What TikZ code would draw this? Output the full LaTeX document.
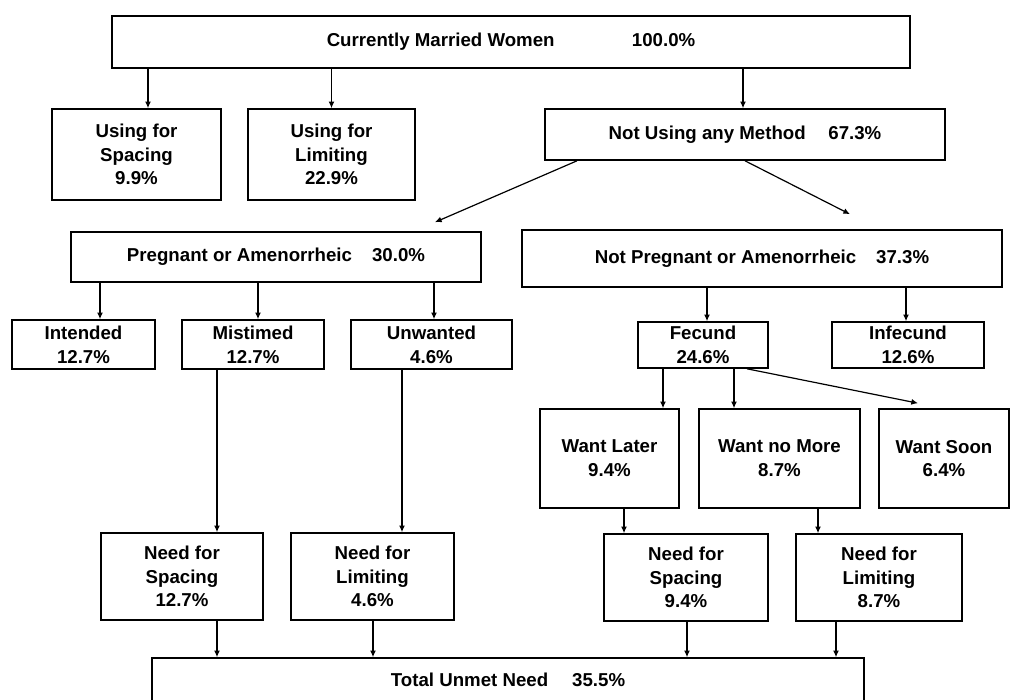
\documentclass[tikz,border=0pt]{standalone}
\usepackage{fontspec}
\setmainfont{Liberation Sans}
\usetikzlibrary{arrows.meta}

\tikzset{
  box/.style={draw, line width=1.2pt, inner sep=0pt, align=center,
    font=\fontsize{14}{17.8}\selectfont\bfseries},
  arr/.style={line width=0.9pt, -{Latex[length=5pt,width=4.5pt]}},
}

\begin{document}
\begin{tikzpicture}[x=0.75pt, y=-0.75pt]
    \useasboundingbox (0,0) rectangle (1011,700);
    \clip (0,0) rectangle (1011,700);

    % Top box
    \node[box, minimum width=598.5pt, minimum height=39pt] (cmw) at (511,42) {Currently Married Women\hspace{58pt}100.0\%};

    % Users and non-users
    \node[box, minimum width=126.75pt, minimum height=68.25pt] (usp) at (136.5,154.5) {Using for\\Spacing\\9.9\%};
    \node[box, minimum width=125.25pt, minimum height=68.25pt] (ulim) at (331.5,154.5) {Using for\\Limiting\\22.9\%};
    \node[box, minimum width=300pt, minimum height=38.25pt] (nuse) at (745,134.5) {Not Using any Method\hspace{17pt}67.3\%};

    % Pregnant or not
    \node[box, minimum width=307.5pt, minimum height=37.5pt] (preg) at (276,257) {Pregnant or Amenorrheic\hspace{15pt}30.0\%};
    \node[box, minimum width=360pt, minimum height=42.75pt] (npreg) at (762,258.5) {Not Pregnant or Amenorrheic\hspace{15pt}37.3\%};

    % Third row
    \node[box, minimum width=107.25pt, minimum height=36.75pt] (int) at (83.5,344.5) {Intended\\12.7\%};
    \node[box, minimum width=106.5pt, minimum height=36.75pt] (mis) at (253,344.5) {Mistimed\\12.7\%};
    \node[box, minimum width=120.75pt, minimum height=36.75pt] (unw) at (431.5,344.5) {Unwanted\\4.6\%};
    \node[box, minimum width=97.5pt, minimum height=34.5pt] (fec) at (703,345) {Fecund\\24.6\%};
    \node[box, minimum width=114pt, minimum height=34.5pt] (infec) at (908,345) {Infecund\\12.6\%};

    % Fecund women by desire
    \node[box, minimum width=104.25pt, minimum height=74.25pt] (wl) at (609.5,458.5) {Want Later\\9.4\%};
    \node[box, minimum width=120.75pt, minimum height=74.25pt] (wnm) at (779.5,458.5) {Want no More\\8.7\%};
    \node[box, minimum width=97.5pt, minimum height=74.25pt] (wso) at (944,458.5) {Want Soon\\6.4\%};

    % Need boxes
    \node[box, minimum width=121.5pt, minimum height=65.25pt] (ns1) at (182,576.5) {Need for\\Spacing\\12.7\%};
    \node[box, minimum width=122.25pt, minimum height=65.25pt] (nl1) at (372.5,576.5) {Need for\\Limiting\\4.6\%};
    \node[box, minimum width=123pt, minimum height=65.25pt] (ns2) at (686,577.5) {Need for\\Spacing\\9.4\%};
    \node[box, minimum width=124.5pt, minimum height=65.25pt] (nl2) at (879,577.5) {Need for\\Limiting\\8.7\%};

    % Total (cut off by the page edge)
    \node[box, minimum width=534pt, minimum height=33pt] (tot) at (508,680) {Total Unmet Need\hspace{18pt}35.5\%};

    % Arrows from the top box
    \draw[arr] (cmw.south -| usp.north) ++(11.5,0) -- ([shift={(11.5,0)}]usp.north);
    \draw[arr] (cmw.south -| ulim.north) -- (ulim.north);
    \draw[arr] (cmw.south -| nuse.north) ++(-2,0) -- ([shift={(-2,0)}]nuse.north);

    % Not using splits in two
    \draw[arr] ([shift={(-168,0)}]nuse.south) -- ([shift={(159,-9)}]preg.north);
    \draw[arr] (nuse.south) -- ([shift={(88,-15)}]npreg.north);

    % Pregnant or amenorrheic
    \draw[arr] (preg.south -| int.north) ++(16.5,0) -- ([shift={(16.5,0)}]int.north);
    \draw[arr] (preg.south -| mis.north) ++(5,0) -- ([shift={(5,0)}]mis.north);
    \draw[arr] (preg.south -| unw.north) ++(2.5,0) -- ([shift={(2.5,0)}]unw.north);

    % Not pregnant or amenorrheic
    \draw[arr] (npreg.south -| fec.north) ++(4,0) -- ([shift={(4,0)}]fec.north);
    \draw[arr] (npreg.south -| infec.north) ++(-2,0) -- ([shift={(-2,0)}]infec.north);

    % Fecund
    \draw[arr] (fec.south -| wl.north) ++(53.5,0) -- ([shift={(53.5,0)}]wl.north);
    \draw[arr] (fec.south -| wnm.north) ++(-45.5,0) -- ([shift={(-45.5,0)}]wnm.north);
    \draw[arr] ([shift={(44,0)}]fec.south) -- ([shift={(-26,-5)}]wso.north);

    % Down to the need boxes
    \draw[arr] (mis.south -| ns1.north) ++(35,0) -- ([shift={(35,0)}]ns1.north);
    \draw[arr] (unw.south -| nl1.north) ++(29.5,0) -- ([shift={(29.5,0)}]nl1.north);
    \draw[arr] (wl.south -| ns2.north) ++(-62,0) -- ([shift={(-62,0)}]ns2.north);
    \draw[arr] (wnm.south -| nl2.north) ++(-61,0) -- ([shift={(-61,0)}]nl2.north);

    % Into the total
    \draw[arr] (ns1.south -| tot.north) ++(-291,0) -- ([shift={(-291,0)}]tot.north);
    \draw[arr] (nl1.south -| tot.north) ++(-135,0) -- ([shift={(-135,0)}]tot.north);
    \draw[arr] (ns2.south -| tot.north) ++(179,0) -- ([shift={(179,0)}]tot.north);
    \draw[arr] (nl2.south -| tot.north) ++(328,0) -- ([shift={(328,0)}]tot.north);

\end{tikzpicture}
\end{document}
